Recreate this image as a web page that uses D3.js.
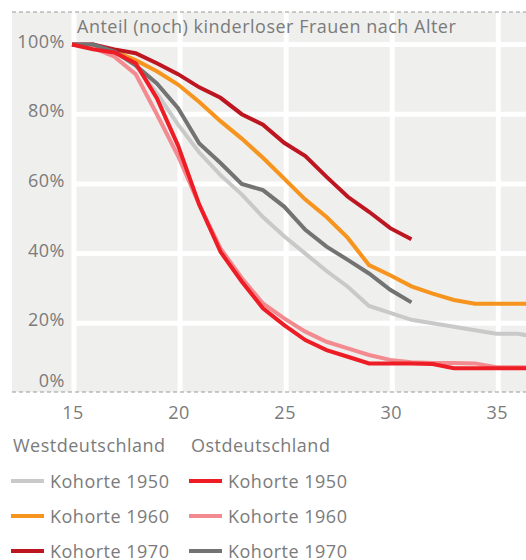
<!DOCTYPE html>
<html>
<head>
  <meta charset="utf-8">
  <style>
    body {
      margin: 0;
      background: #fff;
    }
    svg {
      font-family: "Open Sans", Roboto, sans-serif;
    }
    .lbl {
      fill: #7b7b7b;
      letter-spacing: 0.5px;
    }
  </style>
</head>
<body>
  <svg width="526" height="560"></svg>
  <script src="https://d3js.org/d3.v7.min.js"></script>
  <script>

    // ages on the x axis
    var ages = [15, 16, 17, 18, 19, 20, 21, 22, 23, 24, 25, 26, 27, 28, 29, 30, 31, 32, 33, 34, 35, 36, 37];

    // share of still childless women (%) per cohort
    var west1950 = [100, 100, 98, 94, 86, 77, 69, 62.5, 57, 50.5, 45, 40, 35, 30.5, 25, 23, 21, 20, 19, 18, 17, 17, 16];
    var west1960 = [100, 99.5, 98, 95.5, 92.3, 88.5, 83.5, 78, 73, 67.5, 61.5, 55.5, 50.5, 44.5, 36.7, 33.8, 30.6, 28.5, 26.7, 25.6, 25.6, 25.6, 25.6];
    var west1970 = [100, 100, 98.6, 97.5, 94.6, 91.5, 87.7, 84.7, 80, 77, 71.8, 68, 62, 56.3, 52, 47.3, 44.1];
    var ost1950 = [100, 98.6, 97.7, 94.6, 84.6, 71, 54, 40.5, 32, 24.3, 19.5, 15.2, 12.3, 10.4, 8.5, 8.5, 8.5, 8.3, 7.1, 7.1, 7.1, 7.1, 7.1];
    var ost1960 = [100, 99, 96.5, 91.5, 80, 68, 54, 41.5, 33, 25.7, 21.4, 17.6, 14.7, 12.8, 10.9, 9.5, 8.8, 8.6, 8.6, 8.5, 7.4, 7.4, 7.4];
    var ost1970 = [100, 100, 98, 94, 88.8, 81.7, 71.6, 66, 60, 58.2, 53.5, 46.8, 42, 38.2, 34.3, 29.6, 26];

    var xTicks = [15, 20, 25, 30, 35];
    var yTicks = [0, 20, 40, 60, 80, 100];

    var title = "Anteil (noch) kinderloser Frauen nach Alter";
    var groupNames = ["Westdeutschland", "Ostdeutschland"];
    var cohortNames = ["Kohorte 1950", "Kohorte 1960", "Kohorte 1970"];

    var series = [
      {name: "w1950", group: 0, row: 0, values: west1950, color: "#c9c9c9"},
      {name: "w1960", group: 0, row: 1, values: west1960, color: "#f7941d"},
      {name: "w1970", group: 0, row: 2, values: west1970, color: "#be1621"},
      {name: "o1960", group: 1, row: 1, values: ost1960, color: "#f28a90"},
      {name: "o1970", group: 1, row: 2, values: ost1970, color: "#737373"},
      {name: "o1950", group: 1, row: 0, values: ost1950, color: "#ee1c25"}
    ];

    var svg = d3.select("svg");

    var panel = {left: 12, top: 12, right: 526, bottom: 392};

    var x = d3.scaleLinear()
      .domain([15, 36.4])
      .range([72, 526]);

    var y = d3.scaleLinear()
      .domain([0, 100])
      .range([393, 44.5]);

    // grey background
    svg.append("rect")
      .attr("x", panel.left)
      .attr("y", panel.top)
      .attr("width", panel.right - panel.left)
      .attr("height", panel.bottom - panel.top)
      .attr("fill", "#efefed");

    // white grid
    var grid = svg.append("g").attr("stroke", "#fff").attr("stroke-width", 5);

    grid.selectAll("line.v")
      .data(xTicks)
      .enter().append("line")
      .attr("class", "v")
      .attr("x1", function(d) { return x(d) + 2; })
      .attr("x2", function(d) { return x(d) + 2; })
      .attr("y1", panel.top)
      .attr("y2", panel.bottom);

    grid.selectAll("line.h")
      .data(yTicks.filter(function(d) { return d > 0; }))
      .enter().append("line")
      .attr("class", "h")
      .attr("x1", x(15))
      .attr("x2", panel.right)
      .attr("y1", function(d) { return y(d); })
      .attr("y2", function(d) { return y(d); });

    // dashed frame lines
    svg.selectAll("line.dash")
      .data([panel.top, panel.bottom])
      .enter().append("line")
      .attr("class", "dash")
      .attr("x1", panel.left)
      .attr("x2", panel.right)
      .attr("y1", function(d) { return d; })
      .attr("y2", function(d) { return d; })
      .attr("stroke", "#9a9a9a")
      .attr("stroke-width", 1.2)
      .attr("stroke-dasharray", "4,3");

    // y labels
    svg.append("g")
      .selectAll("text")
      .data(yTicks)
      .enter().append("text")
      .attr("class", "lbl")
      .attr("x", 65)
      .attr("y", function(d) { return Math.min(y(d) + 3, 387); })
      .attr("text-anchor", "end")
      .attr("font-size", 18)
      .text(function(d) { return d + "%"; });

    // x labels
    svg.append("g")
      .selectAll("text")
      .data(xTicks)
      .enter().append("text")
      .attr("class", "lbl")
      .attr("x", function(d) { return x(d) + 1; })
      .attr("y", 419)
      .attr("text-anchor", "middle")
      .attr("font-size", 18)
      .text(function(d) { return d; });

    svg.append("text")
      .attr("class", "lbl")
      .attr("x", 77)
      .attr("y", 33)
      .attr("font-size", 18)
      .text(title);

    // lines
    svg.append("clipPath")
      .attr("id", "clip")
      .append("rect")
      .attr("x", panel.left)
      .attr("y", panel.top)
      .attr("width", panel.right - panel.left)
      .attr("height", panel.bottom - panel.top);

    var line = d3.line()
      .x(function(d, i) { return x(ages[i]); })
      .y(function(d) { return y(d); });

    svg.append("g")
      .attr("clip-path", "url(#clip)")
      .selectAll("path")
      .data(series)
      .enter().append("path")
      .attr("d", function(d) { return line(d.values); })
      .attr("fill", "none")
      .attr("stroke", function(d) { return d.color; })
      .attr("stroke-width", 4)
      .attr("stroke-linejoin", "miter");

    // legend
    var colX = [11, 189];

    svg.selectAll("text.group")
      .data(groupNames)
      .enter().append("text")
      .attr("class", "lbl group")
      .attr("x", function(d, i) { return colX[i] + 2; })
      .attr("y", 452)
      .attr("font-size", 18)
      .text(function(d) { return d; });

    var legend = svg.append("g")
      .selectAll("g")
      .data(series)
      .enter().append("g")
      .attr("transform", function(d) { return "translate(" + colX[d.group] + "," + (481 + d.row * 35) + ")"; });

    legend.append("line")
      .attr("x1", 0)
      .attr("x2", 33)
      .attr("stroke", function(d) { return d.color; })
      .attr("stroke-width", 4);

    legend.append("text")
      .attr("class", "lbl")
      .attr("x", 39)
      .attr("y", 7)
      .attr("font-size", 18)
      .text(function(d) { return cohortNames[d.row]; });

  </script>
</body>
</html>
